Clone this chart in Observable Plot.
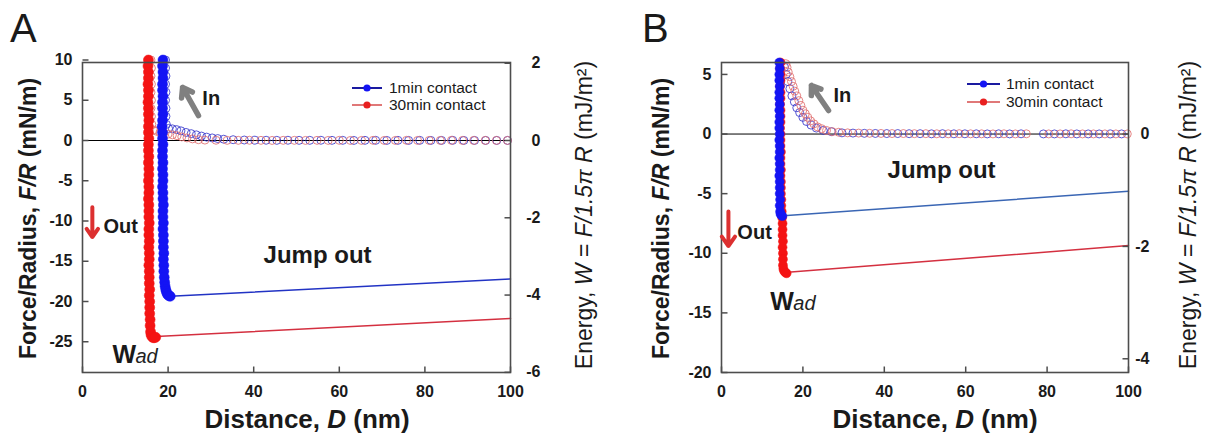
<!DOCTYPE html>
<html><head><meta charset="utf-8">
<script src="https://cdn.jsdelivr.net/npm/d3@7"></script>
<script src="https://cdn.jsdelivr.net/npm/@observablehq/plot@0.6"></script>
<style>
body{margin:0;background:#fff;font-family:"Liberation Sans",Arial,sans-serif;}
#wrap{display:flex;width:1205px;height:436px;overflow:hidden;}
</style></head><body><div id="wrap"></div>
<script>
// ---------------- DATA ----------------
const xTicks = [0, 20, 40, 60, 80, 100];
const yTicksA = [-25, -20, -15, -10, -5, 0, 5, 10];
const yTicksB = [-20, -15, -10, -5, 0, 5];
const energyTicksA = [2, 0, -2, -4, -6];
const energyTicksB = [0, -2, -4];
const energyFactorA = 4.8;            // F/R per unit W as drawn in panel A
const energyFactorB = 1.5 * Math.PI;  // F/R per unit W in panel B
const seriesNames = ["1min contact", "30min contact"];

// Panel A, approach ("In") – hollow circles
const aInBlueD = [19.4,19.4,19.5,19.4,19.5,19.4,19.5,19.5,19.6,
  20.1,21.0,22.0,23.0,24.2,25.4,26.6,27.8,29.0,30.3,31.6,33.0,35.2,37.8,40.3,
  42.9,45.4,48.0,50.6,53.1,55.7,58.3,60.8,63.4,66.0,68.5,71.1,73.7,76.2,78.8,81.4,83.9,86.5,89.1,91.6,94.2,96.8,99.3];
const aInBlueF = [10,9,8,7,6,5,4,3,2,
  1.5,1.45,1.35,1.2,1.0,0.85,0.7,0.55,0.42,0.32,0.24,0.16,0.1,0.06,0.04,
  0.03,0.02,0.03,0.02,0.02,0.03,0.02,0.02,0.01,0.02,0.02,0.01,0.02,0.01,0.02,0.01,0.01,0.02,0.01,0.01,0.01,0.01,0.01];
const aInRedD = [16.0,16.1,16.0,16.1,16.0,16.1,16.0,16.1,16.2,
  16.6,17.3,18.1,19.0,20.0,21.0,22.1,23.2,24.4,25.7,27.1,28.6,
  31.2,33.8,36.4,39.0,41.7,44.3,46.9,49.5,52.1,54.8,57.4,60.0,62.6,65.2,67.9,70.5,73.1,75.7,78.3,81.0,83.6,86.2,88.8,91.4,94.1,96.7,99.3];
const aInRedF = [10,9,8,7,6,5,4,3,2,
  1.3,1.15,1.0,0.9,0.8,0.7,0.6,0.45,0.32,0.2,0.1,0.05,
  0.03,0.02,0.02,0.03,0.02,0.01,0.02,0.02,0.01,0.02,0.01,0.02,0.01,0.01,0.02,0.01,0.01,0.02,0.01,0.01,0.01,0.02,0.01,0.01,0.01,0.01,0.01];
// Panel A, retraction ("Out") – filled circles
const aOutBlueD = [18.8,18.7,18.8,18.8,18.7,18.7,18.8,18.7,18.7,18.8,18.7,18.6,18.7,18.7,18.8,18.7,18.7,18.8,18.7,18.8,18.8,18.7,18.8,18.8,18.9,18.8,18.8,18.9,18.8,18.9,18.9,18.9,19.0,18.9,19.0,19.0,19.1,
  19.2,19.3,19.45,19.6,19.8,20.0,20.25,20.5];
const aOutBlueF = [10,9.25,8.5,7.75,7,6.25,5.5,4.75,4,3.25,2.5,1.75,1,0.25,-0.5,-1.25,-2,-2.75,-3.5,-4.25,-5,-5.75,-6.5,-7.25,-8,-8.75,-9.5,-10.25,-11,-11.75,-12.5,-13.25,-14,-14.75,-15.5,-16.25,-17,
  -17.6,-18.1,-18.5,-18.8,-19.05,-19.2,-19.3,-19.35];
const aOutRedD = [15.4,15.3,15.4,15.4,15.3,15.4,15.4,15.3,15.4,15.4,15.5,15.4,15.4,15.5,15.4,15.4,15.5,15.4,15.5,15.5,15.4,15.5,15.5,15.4,15.5,15.5,15.5,15.6,15.5,15.5,15.6,15.5,15.6,15.6,15.5,15.6,15.6,15.6,15.7,15.6,15.7,15.7,15.7,15.8,15.8,15.9,
  16.0,16.2,16.5,16.8,17.1];
const aOutRedF = [10,9.25,8.5,7.75,7,6.25,5.5,4.75,4,3.25,2.5,1.75,1,0.25,-0.5,-1.25,-2,-2.75,-3.5,-4.25,-5,-5.75,-6.5,-7.25,-8,-8.75,-9.5,-10.25,-11,-11.75,-12.5,-13.25,-14,-14.75,-15.5,-16.25,-17,-17.75,-18.5,-19.25,-20,-20.75,-21.5,-22.25,-23,-23.75,
  -24.1,-24.35,-24.5,-24.5,-24.45];
// Panel A, jump-out lines
const aJumpBlueD = [20.5, 100], aJumpBlueF = [-19.35, -17.2];
const aJumpRedD = [17.2, 100], aJumpRedF = [-24.35, -22.1];

// Panel B, approach ("In") – hollow circles
const bInBlueD = [15.5,15.9,16.3,16.8,17.3,17.9,18.5,19.2,20.0,20.9,22.0,23.3,25.0,27.0,
  29.6,32.3,35.1,37.8,40.6,43.3,46.1,48.8,51.6,54.3,57.1,59.8,62.6,65.3,68.1,70.8,73.6,79.1,81.8,84.6,87.3,90.1,92.8,95.6,98.3];
const bInBlueF = [5.6,5.0,4.4,3.8,3.2,2.7,2.2,1.8,1.4,1.05,0.75,0.5,0.3,0.2,
  0.1,0.08,0.06,0.05,0.04,0.04,0.03,0.03,0.02,0.03,0.02,0.02,0.02,0.01,0.02,0.01,0.02,0.01,0.01,0.02,0.01,0.01,0.01,0.01,0.01];
const bInRedD = [15.8,16.1,16.4,16.8,17.2,17.6,18.0,18.5,19.0,19.5,20.0,20.6,21.2,21.9,22.7,23.6,24.6,25.8,27.2,
  28.8,31.0,33.7,36.4,39.2,41.9,44.7,47.4,50.2,52.9,55.7,58.4,61.2,63.9,66.7,69.4,72.2,74.9,80.4,83.2,85.9,88.7,91.4,94.2,96.9,99.7];
const bInRedF = [5.9,5.6,5.2,4.8,4.4,4.0,3.6,3.2,2.8,2.4,2.0,1.7,1.4,1.1,0.85,0.6,0.45,0.3,0.2,
  0.15,0.1,0.08,0.06,0.05,0.04,0.04,0.03,0.03,0.02,0.02,0.03,0.02,0.02,0.01,0.02,0.01,0.02,0.01,0.01,0.02,0.01,0.01,0.01,0.01,0.01];
// Panel B, retraction ("Out") – filled circles
const bOutBlueD = [14.2,14.3,14.2,14.2,14.3,14.2,14.2,14.3,14.2,14.3,14.2,14.2,14.3,14.2,14.3,14.3,14.2,14.3,14.3,14.2,14.3,14.3,14.3,14.4,14.3,14.4,
  14.5,14.7,14.95];
const bOutBlueF = [6,5.5,5,4.5,4,3.5,3,2.5,2,1.5,1,0.5,0,-0.5,-1,-1.5,-2,-2.5,-3,-3.5,-4,-4.5,-5,-5.5,-6,-6.5,
  -6.7,-6.82,-6.88];
const bOutRedD = [14.5,14.4,14.5,14.5,14.4,14.5,14.5,14.4,14.5,14.5,14.5,14.4,14.5,14.5,14.5,14.6,14.5,14.5,14.6,14.5,14.6,14.6,14.6,14.7,14.7,14.8,14.9,15.0,15.0,15.0,15.1,15.0,15.1,15.1,15.1,
  15.2,15.4,15.7,16.0];
const bOutRedF = [6,5.5,5,4.5,4,3.5,3,2.5,2,1.5,1,0.5,0,-0.5,-1,-1.5,-2,-2.5,-3,-3.5,-4,-4.5,-5,-5.5,-6,-6.5,-7,-7.5,-8,-8.5,-9,-9.5,-10,-10.5,-11,
  -11.3,-11.5,-11.62,-11.68];
// Panel B, jump-out lines
const bJumpBlueD = [15.2, 100], bJumpBlueF = [-6.86, -4.8];
const bJumpRedD = [16.3, 100], bJumpRedF = [-11.6, -9.35];

// Annotations (data coordinates)
const annA = {inText:[28, 5.2], inArrow:[27.1, 3.1, 23.4, 6.6], outText:[4.9, -10.7], outArrow:[2.3, -8.3, 2.3, -12.0], jump:[42.3, -14.3], wad:[7.0, -26.7]};
const annB = {inText:[27.5, 3.2], inArrow:[26.3, 1.97, 22.1, 4.07], outText:[3.9, -8.26], outArrow:[1.7, -6.5, 1.7, -9.4], jump:[40.8, -3.06], wad:[12.0, -14.1]};

// ---------------- DRAWING ----------------
const FONT = '"Liberation Sans", Arial, sans-serif';
const pts = (D, F) => D.map((d, i) => ({D: d, F: F[i]}));
const fmt = d => String(Math.round(d * 100) / 100);
// inward tick shapes (used as dot symbols)
const tickUp = {draw(c) { c.moveTo(0, 0); c.lineTo(0, -6); }};
const tickRightward = {draw(c) { c.moveTo(0, 0); c.lineTo(6, 0); }};
const tickLeftward = {draw(c) { c.moveTo(0, 0); c.lineTo(-6, 0); }};

function panel(cfg) {
  const hollow = (D, F, c) => Plot.dot(pts(D, F), {x: "D", y: "F", r: 4, fill: "none", stroke: c, strokeWidth: 1, strokeOpacity: 0.85});
  const filled = (D, F, c) => Plot.dot(pts(D, F), {x: "D", y: "F", r: cfg.dotR, fill: c, stroke: c, strokeWidth: 0.5});
  const line = (D, F, c) => Plot.line(pts(D, F), {x: "D", y: "F", stroke: c, strokeWidth: 1.5});
  const tickStyle = {fill: "none", stroke: "#4d4d4d", strokeWidth: 1.5, r: 4};
  const rightTicks = cfg.eTicks.map(e => e * cfg.eFactor);
  const a = cfg.ann;
  const plot = Plot.plot({
    width: cfg.width, height: 436,
    marginLeft: cfg.ml, marginRight: cfg.mr, marginTop: 62, marginBottom: 64,
    style: {fontFamily: FONT, background: "white", overflow: "visible", color: "#1a1a1a"},
    x: {domain: [0, 100], label: null},
    y: {domain: cfg.yDomain, label: null},
    marks: [
      Plot.ruleY([0], {stroke: "#000", strokeWidth: 1}),
      hollow(cfg.inBlue[0], cfg.inBlue[1], "#3a3acc"),
      hollow(cfg.inRed[0], cfg.inRed[1], "#e07070"),
      line(cfg.jumpBlue[0], cfg.jumpBlue[1], cfg.blueLine),
      line(cfg.jumpRed[0], cfg.jumpRed[1], "#d43040"),
      filled(cfg.outRed[0], cfg.outRed[1], "#f41414"),
      filled(cfg.outBlue[0], cfg.outBlue[1], "#1414f4"),
      Plot.frame({stroke: "#4d4d4d", strokeWidth: 1.6}),
      Plot.dot(xTicks, {x: d => d, frameAnchor: "bottom", symbol: tickUp, ...tickStyle}),
      Plot.dot(cfg.yTicks, {y: d => d, frameAnchor: "left", symbol: tickRightward, ...tickStyle}),
      Plot.dot(rightTicks, {y: d => d, frameAnchor: "right", symbol: tickLeftward, ...tickStyle}),
      Plot.axisX({ticks: xTicks, tickSize: 0, tickPadding: 13, fontSize: 16, fontWeight: "bold", tickFormat: fmt, label: null}),
      Plot.axisY({anchor: "left", ticks: cfg.yTicks, tickSize: 0, tickPadding: 10, fontSize: 16, fontWeight: "bold", tickFormat: fmt, label: null}),
      Plot.axisY({anchor: "right", ticks: rightTicks, tickSize: 0, tickPadding: cfg.rPad, textAnchor: "end",
        fontSize: 16, fontWeight: "bold", tickFormat: d => fmt(d / cfg.eFactor), label: null}),
      Plot.arrow([a.inArrow], {x1: d => d[0], y1: d => d[1], x2: d => d[2], y2: d => d[3], stroke: "#808080", strokeWidth: 5.5, headLength: 9, headAngle: 70}),
      Plot.arrow([a.outArrow], {x1: d => d[0], y1: d => d[1], x2: d => d[2], y2: d => d[3], stroke: "#dc3030", strokeWidth: 4, headLength: 7, headAngle: 70}),
      Plot.text([a.inText], {x: d => d[0], y: d => d[1], text: () => "In", textAnchor: "start", fontSize: 20, fontWeight: "bold", fill: "#1a1a1a"}),
      Plot.text([a.outText], {x: d => d[0], y: d => d[1], text: () => "Out", textAnchor: "start", fontSize: 20, fontWeight: "bold", fill: "#1a1a1a"}),
      Plot.text([a.jump], {x: d => d[0], y: d => d[1], text: () => "Jump out", textAnchor: "start", fontSize: 24, fontWeight: "bold", fill: "#1a1a1a"}),
      Plot.text([a.wad], {x: d => d[0], y: d => d[1], text: () => "W", textAnchor: "start", fontSize: 25, fontWeight: "bold", fill: "#1a1a1a"}),
      Plot.text([a.wad], {x: d => d[0], y: d => d[1], text: () => "ad", dx: 23, dy: 1, textAnchor: "start", fontSize: 20, fontStyle: "italic", fill: "#222"})
    ]
  });
  const svg = d3.select(plot);
  const txt = (x, y, size, weight, parts, rot = 0, anchor = "middle", dy = "0") => {
    const t = svg.append("text").attr("transform", `translate(${x},${y}) rotate(${rot})`)
      .attr("text-anchor", anchor).attr("dy", dy).attr("font-size", size).attr("font-weight", weight)
      .attr("font-family", FONT).attr("fill", "#1a1a1a");
    parts.forEach(p => t.append("tspan").attr("font-style", p[1] ? "italic" : "normal").text(p[0]));
  };
  // panel letter
  txt(cfg.letterX, 42, 40, "normal", [[cfg.letter, 0]], 0, "start");
  // axis titles
  txt(cfg.yTitleX, 218.5, 23, "bold", [["Force/Radius, ", 0], ["F/R", 1], [" (mN/m)", 0]], -90, "middle", "0.35em");
  txt(cfg.eTitleX, 215, 23, "normal", [["Energy, ", 0], ["W", 1], [" = ", 0], ["F/1.5", 1], ["π", 1], [" R", 1], [" (mJ/m²)", 0]], -90, "middle", "0.35em");
  txt(cfg.xTitleX, 428, 26, "bold", [["Distance, ", 0], ["D", 1], [" (nm)", 0]]);
  // legend
  const lg = cfg.legend;
  [["#1a1aa0", "#1414f4"], ["#e07878", "#e82020"]].forEach((c, i) => {
    const y = lg.y[i];
    svg.append("line").attr("x1", lg.x1).attr("x2", lg.x2).attr("y1", y).attr("y2", y).attr("stroke", c[0]).attr("stroke-width", 2);
    svg.append("circle").attr("cx", (lg.x1 + lg.x2) / 2).attr("cy", y).attr("r", 3.6).attr("fill", c[1]);
    svg.append("text").attr("x", lg.tx).attr("y", y).attr("dy", "0.35em").attr("font-size", 15.5)
      .attr("text-anchor", "start").attr("font-family", FONT).attr("fill", "#1a1a1a").text(seriesNames[i]);
  });
  return plot;
}

const wrap = document.getElementById("wrap");
wrap.appendChild(panel({
  letter: "A", letterX: 10, width: 602, ml: 82, mr: 92, yDomain: [-28.82, 9.69], dotR: 5,
  yTicks: yTicksA, eTicks: energyTicksA, eFactor: energyFactorA, rPad: 30,
  inBlue: [aInBlueD, aInBlueF], inRed: [aInRedD, aInRedF],
  outBlue: [aOutBlueD, aOutBlueF], outRed: [aOutRedD, aOutRedF],
  jumpBlue: [aJumpBlueD, aJumpBlueF], jumpRed: [aJumpRedD, aJumpRedF], blueLine: "#2233c4",
  ann: annA, yTitleX: 28, eTitleX: 584, xTitleX: 307,
  legend: {x1: 352, x2: 382, tx: 389, y: [88, 105]}
}));
wrap.appendChild(panel({
  letter: "B", letterX: 40, width: 603, ml: 119, mr: 77, yDomain: [-20, 6], dotR: 4.5,
  yTicks: yTicksB, eTicks: energyTicksB, eFactor: energyFactorB, rPad: 21,
  inBlue: [bInBlueD, bInBlueF], inRed: [bInRedD, bInRedF],
  outBlue: [bOutBlueD, bOutBlueF], outRed: [bOutRedD, bOutRedF],
  jumpBlue: [bJumpBlueD, bJumpBlueF], jumpRed: [bJumpRedD, bJumpRedF], blueLine: "#3a66b4",
  ann: annB, yTitleX: 59, eTitleX: 586, xTitleX: 333,
  legend: {x1: 365, x2: 398, tx: 404, y: [84, 102]}
}));
</script></body></html>
